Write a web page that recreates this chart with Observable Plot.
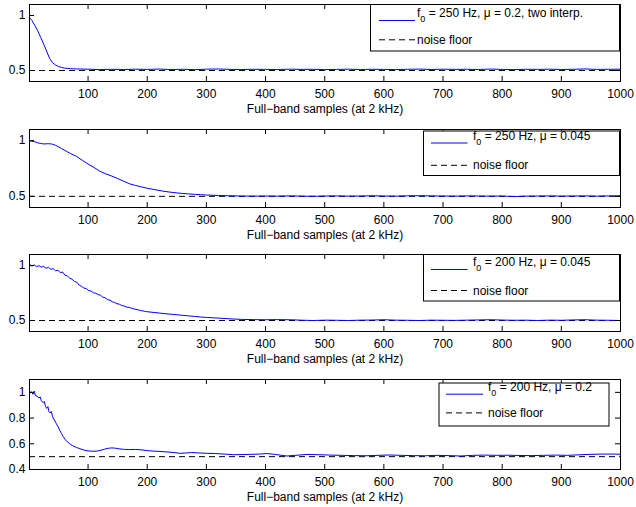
<!DOCTYPE html>
<html><head><meta charset="utf-8">
<script src="https://cdn.jsdelivr.net/npm/d3@7"></script>
<script src="https://cdn.jsdelivr.net/npm/@observablehq/plot@0.6"></script>
<style>
body{margin:0;background:#fff;}
#wrap{position:relative;width:636px;height:507px;background:#fff;}
#wrap svg{position:absolute;left:0;overflow:visible;}
</style></head><body><div id="wrap"></div>
<script>
const xTicks = [100,200,300,400,500,600,700,800,900,1000];
const yTicksTop = [0.5,1];
const yTicksBottom = [0.4,0.6,0.8,1];
const noiseFloor = [0.5];
const xLabel = "Full\u2212band samples (at 2 kHz)";
const f0Values = ["250","250","200","200"];
const muValues = ["0.2","0.045","0.045","0.2"];
const notes = [", two interp.","","",""];

const curve1 = [[1,0.98],[5,0.955],[10,0.91],[15,0.86],[20,0.80],[25,0.74],[30,0.675],[35,0.61],[40,0.57],[45,0.55],[50,0.537],[55,0.528],[60,0.522],[70,0.517],[80,0.514],
[100,0.512],[120,0.508],[140,0.511],[160,0.509],[180,0.512],[200,0.51],[220,0.513],[240,0.509],[260,0.511],[280,0.508],[300,0.512],[320,0.514],[340,0.51],[360,0.509],[380,0.511],[400,0.51],[420,0.509],[440,0.512],[460,0.51],[480,0.511],[500,0.508],[520,0.51],[540,0.512],[560,0.509],[580,0.511],[600,0.51],[620,0.508],[640,0.511],[660,0.513],[680,0.509],[700,0.512],[720,0.51],[740,0.511],[760,0.509],[780,0.513],[800,0.51],[820,0.508],[840,0.511],[860,0.51],[880,0.512],[900,0.509],[920,0.511],[940,0.514],[960,0.51],[980,0.511],[1000,0.512]];

const curve2 = [[1,1.0],[5,0.995],[10,0.99],[15,0.98],[20,0.975],[25,0.97],[30,0.972],[35,0.972],[40,0.968],[45,0.958],[50,0.945],[55,0.93],[60,0.915],[65,0.9],[70,0.885],[80,0.86],[90,0.825],[100,0.79],[110,0.76],[120,0.725],[130,0.702],[140,0.682],[150,0.66],[160,0.636],[170,0.613],[180,0.598],[190,0.585],[200,0.573],[210,0.563],[220,0.553],[230,0.544],[240,0.537],[250,0.531],[260,0.526],[270,0.522],[280,0.518],[290,0.515],[300,0.512],[320,0.508],[340,0.505],[360,0.503],[380,0.502],[400,0.503],[420,0.502],[440,0.504],[460,0.502],[480,0.501],[500,0.503],[520,0.504],[540,0.502],[560,0.503],[580,0.505],[600,0.503],[620,0.502],[640,0.505],[660,0.506],[680,0.504],[700,0.503],[720,0.502],[740,0.504],[760,0.503],[780,0.502],[800,0.503],[820,0.498],[840,0.502],[860,0.503],[880,0.504],[900,0.502],[920,0.503],[940,0.504],[960,0.502],[980,0.504],[1000,0.505]];

const curve3 = [[1,1.01],[5,0.995],[9,1.005],[13,0.99],[17,0.998],[21,0.985],[25,0.992],[29,0.975],[33,0.983],[37,0.965],[41,0.972],[45,0.952],[49,0.958],[53,0.935],[57,0.94],[61,0.912],[65,0.905],[69,0.885],[73,0.875],[77,0.855],[81,0.848],[85,0.822],[89,0.81],[93,0.795],[97,0.79],[101,0.772],[105,0.768],[109,0.752],[113,0.748],[117,0.735],[121,0.73],[125,0.712],[129,0.706],[133,0.69],[137,0.685],[141,0.67],[145,0.664],[149,0.652],[153,0.648],[157,0.636],[161,0.632],[165,0.622],[169,0.62],[173,0.612],[177,0.607],[181,0.6],[185,0.597],[189,0.59],[193,0.587],[197,0.582],[201,0.579],
[210,0.574],[220,0.568],[230,0.562],[240,0.557],[250,0.552],[260,0.547],[270,0.542],[280,0.537],[290,0.532],[300,0.528],[320,0.522],[340,0.515],[360,0.51],[380,0.508],[400,0.507],[420,0.508],[440,0.507],[460,0.503],[480,0.5],[500,0.503],[520,0.502],[540,0.5],[560,0.503],[580,0.504],[600,0.507],[620,0.503],[640,0.502],[660,0.5],[680,0.503],[700,0.502],[720,0.501],[740,0.503],[760,0.505],[780,0.507],[800,0.504],[820,0.502],[840,0.503],[860,0.5],[880,0.503],[900,0.502],[920,0.505],[940,0.507],[960,0.503],[980,0.502],[1000,0.5]];

const curve4 = [[1,0.99],[4,1.005],[7,0.985],[9,1.01],[11,0.975],[14,0.97],[17,0.955],[19,0.965],[21,0.935],[24,0.92],[26,0.93],[28,0.89],[30,0.875],[32,0.89],[34,0.85],[36,0.84],[38,0.852],[40,0.81],[43,0.785],[46,0.76],[49,0.735],[52,0.705],[55,0.68],[58,0.655],[61,0.635],[65,0.615],[69,0.6],[74,0.585],[80,0.572],[86,0.562],[92,0.553],[98,0.546],[104,0.543],[110,0.542],[116,0.544],[122,0.55],[128,0.558],[134,0.565],[140,0.568],[146,0.566],[152,0.561],[160,0.557],[170,0.555],[180,0.556],[190,0.553],[200,0.547],[210,0.543],[220,0.541],[232,0.537],[245,0.532],[255,0.526],[265,0.528],[275,0.532],[290,0.528],[300,0.526],[315,0.524],[330,0.52],[346,0.515],[360,0.516],[375,0.518],[390,0.52],[402,0.524],[415,0.518],[436,0.505],[450,0.51],[470,0.517],[490,0.515],[510,0.512],[530,0.51],[550,0.508],[570,0.507],[590,0.51],[610,0.513],[630,0.51],[650,0.508],[670,0.507],[690,0.51],[710,0.508],[730,0.505],[750,0.51],[770,0.512],[790,0.51],[810,0.511],[830,0.509],[850,0.508],[870,0.51],[890,0.512],[910,0.51],[930,0.514],[950,0.518],[970,0.52],[990,0.52],[1000,0.518]];

const FONT = '"Liberation Sans", Arial, Helvetica, sans-serif';
const panels = [
  {top:4,   h:77, data:curve1, yTicks:yTicksTop,    legend:{x:370,   y:0,   w:249, h:46.5, ly1:16,   ly2:35.3, lx1:379, lx2:415, tx:417}},
  {top:129, h:78, data:curve2, yTicks:yTicksTop,    legend:{x:423,   y:1.5, w:196, h:44.5, ly1:13.5, ly2:35.8, lx1:431, lx2:467.5, tx:473}},
  {top:254, h:77, data:curve3, yTicks:yTicksTop,    legend:{x:423,   y:0,   w:196, h:46.5, ly1:15,   ly2:36,   lx1:431, lx2:467.5, tx:473}},
  {top:379, h:90, data:curve4, yTicks:yTicksBottom, legend:{x:438.5, y:3.5, w:170, h:43,   ly1:14.7, ly2:33.4, lx1:446, lx2:483, tx:488}}
];

const wrap = document.getElementById("wrap");
const innerW = 636 - 29 - 16;

panels.forEach((p, i) => {
  const chart = Plot.plot({
    width: 636, height: 4 + p.h + 36,
    marginTop: 4, marginBottom: 36, marginLeft: 29, marginRight: 16,
    style: {fontFamily: FONT, fontSize: "12px", color: "black", background: "transparent", overflow: "visible"},
    x: {domain: [1, 1000]},
    y: {domain: [0.4, 1.1]},
    marks: [
      Plot.ruleY(noiseFloor, {y: d => d, stroke: "black", strokeDasharray: "6,4", strokeWidth: 1}),
      Plot.line(p.data, {x: d => d[0], y: d => d[1], stroke: "#0000ff", strokeWidth: 1}),
      Plot.tickX(xTicks, {x: d => d, stroke: "black", insetTop: p.h - 5}),
      Plot.tickX(xTicks, {x: d => d, stroke: "black", insetBottom: p.h - 5}),
      Plot.tickY(p.yTicks, {y: d => d, stroke: "black", insetRight: innerW - 5}),
      Plot.tickY(p.yTicks, {y: d => d, stroke: "black", insetLeft: innerW - 5}),
      Plot.frame({stroke: "black", strokeWidth: 1}),
      Plot.axisX(xTicks, {tickSize: 0, tickPadding: 8, tickFormat: d => String(d), label: null, fontSize: 12}),
      Plot.axisY(p.yTicks, {tickSize: 0, tickPadding: 4, tickFormat: d => String(d), label: null, fontSize: 12}),
      Plot.text([xLabel], {text: d => d, frameAnchor: "bottom", dy: 27.5, lineAnchor: "middle", fontSize: 12, fill: "black"})
    ]
  });
  chart.style.top = (p.top - 4) + "px";
  wrap.appendChild(chart);

  const L = p.legend, t0 = 4;
  const g = d3.select(chart).append("g").attr("font-family", FONT).attr("font-size", 12)
    .attr("fill", "black").attr("text-anchor", "start");
  g.append("rect").attr("x", L.x + 0.5).attr("y", t0 + L.y + 0.5).attr("width", L.w).attr("height", L.h)
    .attr("fill", "white").attr("stroke", "black").attr("stroke-width", 1);
  g.append("line").attr("x1", L.lx1).attr("x2", L.lx2).attr("y1", t0 + L.ly1 + 0.5).attr("y2", t0 + L.ly1 + 0.5)
    .attr("stroke", "#0000ff").attr("stroke-width", 1);
  g.append("line").attr("x1", L.lx1).attr("x2", L.lx2 + 2).attr("y1", t0 + L.ly2 + 0.5).attr("y2", t0 + L.ly2 + 0.5)
    .attr("stroke", "black").attr("stroke-width", 1).attr("stroke-dasharray", "6,4");
  const t = g.append("text").attr("x", L.tx).attr("y", t0 + L.ly1 - 3).attr("text-anchor", "start");
  t.append("tspan").text("f");
  t.append("tspan").attr("dy", 5).attr("font-size", 9).text("0");
  t.append("tspan").attr("dy", -5).text(` = ${f0Values[i]} Hz, \u03bc = ${muValues[i]}${notes[i]}`);
  g.append("text").attr("x", L.tx).attr("y", t0 + L.ly2 + 4.5).attr("text-anchor", "start").text("noise floor");
});
</script></body></html>
